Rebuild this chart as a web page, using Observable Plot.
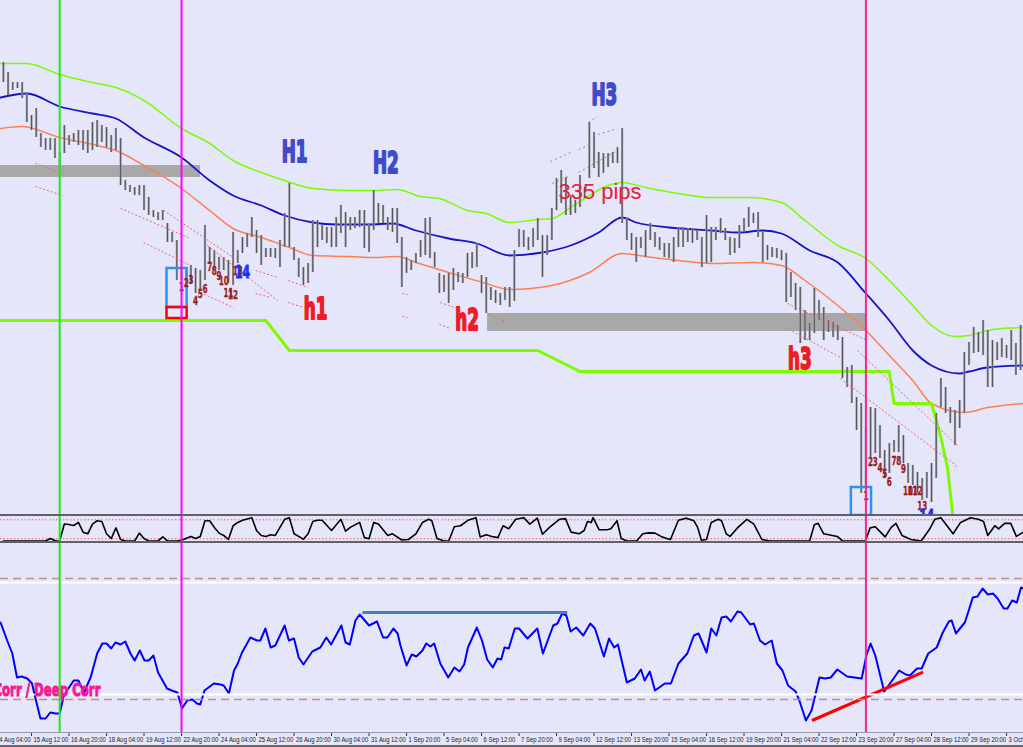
<!DOCTYPE html>
<html><head><meta charset="utf-8">
<script src="https://cdn.jsdelivr.net/npm/d3@7"></script>
<script src="https://cdn.jsdelivr.net/npm/@observablehq/plot@0.6"></script>
<style>
html,body{margin:0;padding:0;background:#E6E6FA;overflow:hidden}
#wrap{width:1023px;height:747px;overflow:hidden;background:#E6E6FA}
#wrap svg{display:block}
#main,#lower,#axis,#osc{width:1023px;overflow:hidden;line-height:0}
#osc{border-top:2px solid #606068;border-bottom:2px solid #606068}
#axis{border-top:1px solid #9a9aa2;border-bottom:2px solid #66666c}
</style></head>
<body><div id="wrap"><div id="main"></div><div id="osc"></div><div id="lower"></div><div id="axis"></div></div>
<script>
// ---------- DATA ----------
// H4 bars, index 0 = first visible bar; values in price units (arbitrary quote scale)
const barHigh = [938,928,918,918,918,908,885,892,867,862,
862,862,848,875,865,867,870,870,870,878,
880,875,873,865,872,862,820,815,813,815,
815,803,790,788,790,777,768,760,733,730,
735,732,730,775,753,750,743,743,740,768,
750,763,767,783,770,765,752,752,752,760,
787,817,753,742,733,737,780,780,775,773,
773,783,795,788,783,783,790,790,777,810,
797,795,783,792,792,763,743,740,747,760,
782,783,748,727,725,727,732,728,727,747,
748,757,725,723,713,710,707,713,713,750,
771,770,763,772,782,765,765,792,822,830,
823,805,800,825,813,878,868,848,847,847,
848,853,872,783,767,763,763,770,777,768,
763,757,757,763,773,773,772,772,770,763,
785,773,773,782,772,763,762,775,782,793,
787,788,768,755,753,752,750,747,728,717,
713,690,677,712,700,693,680,678,675,663,
633,635,603,597,573,593,592,575,550,557,
560,575,565,537,535,528,522,528,537,587,
622,613,593,590,600,648,658,673,668,680,
670,660,658,662,655,670,657,675];
const barLow = [918,905,910,912,902,878,870,863,853,850,
850,842,828,847,855,858,855,850,847,850,
853,858,853,848,850,815,810,808,805,805,
790,785,783,780,780,758,758,720,720,718,
717,707,710,720,737,733,730,730,717,715,
737,747,753,763,747,735,743,743,742,733,
753,753,740,723,715,717,728,753,760,757,
753,753,767,753,770,772,773,752,748,770,
777,777,770,768,757,713,727,730,737,743,
745,742,733,707,708,697,710,718,717,723,
732,733,707,687,700,697,695,700,693,699,
753,753,750,753,760,723,745,760,790,797,
785,785,787,793,802,822,832,823,827,833,
837,837,777,760,750,738,752,743,760,753,
750,743,742,738,753,753,758,757,760,733,
737,738,760,767,760,745,747,752,768,773,
777,763,738,740,743,742,740,698,703,690,
657,660,660,667,680,660,668,663,660,622,
613,597,570,507,513,543,547,542,523,527,
548,548,537,517,515,507,500,502,498,522,
593,587,577,555,572,587,635,647,648,645,
613,613,640,643,642,640,625,630];

// envelope / moving average lines [barIndex, price]
const upperBand = [[-0.6,937],[5,937],[12,926],[19,918],[24,913],[30,900],[38,872],[44,857],[49,840],[55,828],[60,820],[66,812],[74,810],[79,810],[84,811],[89,804],[93,802],[99,790],[103,787],[108,778],[114,781],[117,782],[121,793],[125,805],[129,815],[132,818],[137,813],[144,807],[151,803],[159,803],[166,798],[171,780],[178,755],[184,742],[189,720],[194,695],[198,675],[203,664],[206,665],[210,670],[213,672],[217.6,673]];
const middleBand = [[-0.6,903],[5,907],[12,894],[19,887],[24,882],[30,863],[38,843],[44,820],[49,805],[55,795],[60,785],[66,778],[71,776],[78,776],[83,777],[88,770],[95,762],[101,757],[108,745],[115,748],[121,755],[127,768],[132,783],[135,778],[142,773],[151,770],[157,768],[162,770],[166,767],[172,750],[178,738],[184,707],[189,680],[194,650],[198,635],[204,627],[206,629],[210,633],[217.6,635]];
const lowerBand = [[-0.6,872],[4,874],[12,863],[20,855],[24,850],[30,835],[38,812],[44,790],[49,772],[55,763],[61,753],[66,745],[74,744],[79,743],[84,744],[88,738],[95,728],[103,717],[108,711],[117,715],[125,728],[132,747],[137,744],[144,740],[151,737],[160,738],[166,735],[171,720],[178,695],[184,670],[189,645],[194,620],[198,597],[205,588],[210,593],[217.6,597]];
const stopLine = [[-1,680],[56,680],[61,650],[114,650],[123,629],[189,629],[190,597],[198,597],[200,563],[201.4,533],[202.5,487]];

// zones and boxes [fromBar, toBar, lowPrice, highPrice]
const grayZones = [[-1,42.05,823,835],[103.3,183.9,669,687]];
const blueBoxes = [[34.9,39.2,693,732],[180.9,185.2,485,513]];
const redBoxes = [[34.9,39.2,682,693]];

// dotted channel segments [bar1, price1, bar2, price2]
const redDotted = [[6.85,837,12.61,827],[6.85,814,12.61,805],[25.0,792,39.9,762],[29.9,758,39.9,735],[34.2,790,49.1,743],[43.5,755,58.5,700],[42.0,708,49.1,693],[53.8,730,58.5,723],[60.8,720,64.9,713],[53.8,707,57.0,703],[60.8,698,64.0,693],[85.1,707,86.2,706],[85.1,684,86.2,683],[93.2,698,96.9,692],[93.0,676,95.4,672],[103.3,687,107.5,678],[167.3,697,184.3,660],[166.8,673,178.6,643],[178.6,622,203.8,533],[182.2,650,203.5,555]];
const greenDotted = [[116.7,839,121,848],[122.7,851,125.2,856],[124.8,863,131,872],[124.8,878,126.7,884],[117.1,817,121,825],[122.7,828,131,850]];

// swing labels
const peakNames = ["H1","H2","H3"], peakIdx = [62.1,81.6,128.2], peakVal = [848.5,837,905.5];
const troughNames = ["h1","h2","h3"], troughIdx = [66.6,98.9,169.9], troughVal = [691,680,641];
const pipsText = "335 pips", pipsIdx = 118.4, pipsVal = 808.5;

// sequential counts
const count1Idx = [38,39,40,41,42,43,44,45,46,47,48,49,50];
const count1Val = [713,717,720,699,706,711,733,729,724,719,707,705,729];
const count2Idx = [184,185,186,187,188,189,190,191,192,193,194,195,196];
const count2Val = [504,538,538,532,526,518,539,539,531,509,509,509,494];
const countNames = ["1","2","3","4","5","6","7","8","9","10","11","12","13"];
const count14Idx = [51,197], count14Val = [728.5,484];

// vertical markers
const markerIdx = [12,38,184];
const markerColor = ["#22E822","#FF00FF","#F0288C"];

// oscillator (0-100) [bar, value]
const stoch = [[0,1],[9,1],[10,11],[11.2,1],[12,1],[13,72],[14,70],[15,66],[16,79],[17,38],[18,31],[19,72],[20,86],[21,83],[22,31],[23,11],[24,56],[25,7],[26,1],[28,1],[29,34],[30,11],[31,1],[33,1],[34,18],[35,1],[37,1],[38,4],[40,20],[41,11],[42,20],[43,86],[44,86],[45,58],[46,34],[47,24],[48,7],[49,65],[50,79],[51,88],[53,99],[54,45],[55,24],[56,20],[57,27],[58,24],[60,92],[61,99],[62,31],[63,20],[64,8],[65,31],[66,83],[67,88],[68,88],[70,45],[72,92],[73,42],[74,58],[76,79],[77,15],[78,10],[79,79],[80,72],[82,24],[83,31],[85,5],[86.4,7],[88,31],[89.4,79],[90.7,92],[91.4,86],[92.5,11],[94,1],[95,1],[96.2,61],[97.5,65],[99.1,88],[100.8,99],[101.7,18],[103,27],[104.2,20],[105.5,15],[106.6,65],[107.8,52],[109.3,92],[111,99],[112.3,72],[113.9,97],[115,29],[116.5,58],[118.6,92],[119.9,95],[121.1,38],[122.8,31],[123.9,45],[124.6,83],[125.4,79],[125.8,99],[127.1,48],[128.8,48],[129.6,52],[130.9,86],[131.8,11],[133,1],[135.1,1],[136.4,31],[137.7,35],[139,34],[140.3,20],[141.5,11],[142.3,7],[144,88],[145.7,97],[147.3,86],[148.1,58],[148.9,4],[150,7],[151,79],[152.5,92],[153.2,86],[154.2,31],[155,20],[156.7,58],[158.6,92],[160.1,72],[161.8,7],[163.5,1],[172,1],[173,69],[173.8,75],[175,31],[177.9,20],[179,1],[183.9,1],[184.9,56],[186,61],[188.1,18],[189.4,58],[190.4,75],[191.7,24],[193.6,7],[195.8,1],[197.5,48],[198.7,92],[200,99],[201.3,65],[202.6,31],[204.2,79],[206.3,99],[208,92],[209.1,83],[210,24],[211.5,65],[212.3,52],[213.6,75],[214.9,75],[216.1,20],[217.6,38]];
const stochLevels = [90,10];

// lower indicator [bar, value]
const corr = [[-0.6,98],[0.8,80],[1.9,67],[2.9,43],[3.9,44],[5.1,42],[6.1,37],[6.8,23],[7.9,2],[9,2],[10,8],[11.1,7],[12,7],[12.9,25],[14,33],[15,40],[16,40],[17.2,28],[18.6,43],[20,67],[21.1,77],[22,77],[23,72],[23.9,78],[25,76],[26,79],[27.1,67],[28,60],[29.1,70],[30.1,60],[31,60],[32,65],[33,48],[34.9,32],[35.9,30],[37.1,28],[38.1,12],[39.2,20],[40.3,21],[41.3,17],[42,16],[42.9,30],[44.9,37],[46.3,36],[47,35],[48.1,27],[49.2,50],[50,57],[50.9,68],[52.7,83],[54.1,80],[54.8,80],[55.9,92],[57,73],[58,75],[60,95],[60.9,80],[62,82],[63,63],[64,56],[65.9,69],[67.6,73],[68.9,83],[69.9,76],[72.1,95],[73,78],[73.9,76],[75.1,100],[76,106],[78,95],[79.7,99],[81,83],[81.9,83],[83.2,92],[84.1,87],[84.7,75],[86,55],[87.1,66],[88.1,64],[89.4,70],[90.2,77],[91.1,74],[91.9,77],[93.2,57],[94.9,43],[96.2,53],[97.3,49],[98.3,56],[99.1,73],[101,93],[102.1,80],[103.2,61],[104.4,53],[105.4,62],[106.2,61],[106.9,73],[107.8,72],[109.1,92],[110,92],[111.8,82],[113.9,92],[115.1,67],[117.3,95],[118.2,97],[119.2,107],[120.1,105],[121,89],[122.2,93],[123.7,85],[125.2,97],[126.2,92],[128.1,64],[129.2,82],[130.3,73],[131.1,76],[133,38],[134.7,42],[136,51],[136.8,40],[137.9,49],[139,30],[141.1,37],[142.4,37],[144,57],[145.9,67],[147.3,85],[148.3,87],[150,68],[151,92],[152.1,85],[153.2,103],[154.2,104],[155.2,99],[156.6,109],[157.4,108],[159.3,96],[160.1,97],[161.4,80],[162.5,76],[163.9,80],[165,57],[166.2,50],[167.4,35],[169,29],[169.8,20],[171.2,0],[172.4,10],[174.1,43],[175.3,42],[176.5,43],[177.9,51],[180,44],[183.1,42],[184.1,65],[185,77],[186,65],[187.9,29],[189.3,38],[191.1,50],[192.5,46],[193.4,45],[194.9,52],[195.9,52],[197.3,67],[199.1,73],[200.4,88],[201.7,99],[202.3,100],[203.2,87],[205.1,98],[205.8,108],[206.8,123],[207.8,124],[208.9,132],[210,126],[211.1,127],[212.1,122],[213.4,112],[214.2,112],[215.2,120],[216.2,118],[217.1,133],[217.6,132]];
const corrResistance = [[76.6,108,120.3,108]];
const corrDivergence = [[172.5,0,196.2,48.3]];
const corrWhiteLevels = [138,26];
const corrDashLevels = [142,21];
const corrLabel = "Corr / Deep Corr", corrLabelIdx = 20.7, corrLabelVal = 30;

// time axis
const tickIdx = d3.range(28).map(k => -2 + 8 * k);
const tickLabels = ["14 Aug 04:00","15 Aug 12:00","16 Aug 20:00","18 Aug 04:00","19 Aug 12:00","22 Aug 20:00","24 Aug 04:00","25 Aug 12:00","26 Aug 20:00","30 Aug 04:00","31 Aug 12:00","1 Sep 20:00","5 Sep 04:00","6 Sep 12:00","7 Sep 20:00","9 Sep 04:00","12 Sep 12:00","13 Sep 20:00","15 Sep 04:00","16 Sep 12:00","19 Sep 20:00","21 Sep 04:00","22 Sep 12:00","23 Sep 20:00","27 Sep 04:00","28 Sep 12:00","29 Sep 20:00","3 Oct 04:00"];

// ---------- DRAW ----------
const W = 1023;
const xDomain = [-0.62, 217.62];
function opts(h, yDomain, marks) {
  const o = {width: W, height: h, marginTop: 0, marginRight: 0, marginBottom: 0, marginLeft: 0,
    x: {domain: xDomain, axis: null},
    style: {background: "transparent", overflow: "hidden"}, marks};
  if (yDomain) o.y = {domain: yDomain, axis: null};
  return o;
}
// horizontally condense text glyphs (keeps Plot's own translate)
function squeeze(svg, map) {
  svg.querySelectorAll("g[font-size]").forEach(g => {
    const s = map[g.getAttribute("font-size")];
    if (!s) return;
    g.querySelectorAll("text").forEach(t => {
      const tr = t.getAttribute("transform") || "";
      t.setAttribute("transform", tr + ` scale(${s},1)`);
    });
  });
}
const bars = barHigh.map((h, i) => ({i, high: h, low: barLow[i]}));
const vRules = markerIdx.map((j, k) => Plot.ruleX([j], {stroke: markerColor[k], strokeWidth: 2}));
const rectOpts = {x1: d => d[0], x2: d => d[1], y1: d => d[2], y2: d => d[3]};
const segOpts = {x1: d => d[0], y1: d => d[1], x2: d => d[2], y2: d => d[3]};
const bold = "DejaVu Sans";
const heavy = (color, w) => ({fill: color, stroke: color, strokeWidth: w, fontWeight: "bold", fontFamily: bold});

const main = Plot.plot(opts(514, [486, 1000], [
  Plot.rect(grayZones, {...rectOpts, fill: "#A8A8A8"}),
  Plot.line(upperBand, {x: d => d[0], y: d => d[1], stroke: "#7CFC00", strokeWidth: 1.5, curve: "monotone-x"}),
  Plot.line(middleBand, {x: d => d[0], y: d => d[1], stroke: "#1414C8", strokeWidth: 1.8, curve: "monotone-x"}),
  Plot.line(lowerBand, {x: d => d[0], y: d => d[1], stroke: "#FF7F50", strokeWidth: 1.5, curve: "monotone-x"}),
  Plot.line(stopLine, {x: d => d[0], y: d => d[1], stroke: "#7CFC00", strokeWidth: 3, clip: true}),
  Plot.ruleX(bars, {x: "i", y1: "low", y2: "high", stroke: "#9B9BA4", strokeWidth: 2.2}),
  Plot.ruleX(bars, {x: "i", y1: "low", y2: "high", stroke: "#303030", strokeWidth: 0.9, strokeOpacity: 0.75}),
  Plot.link(redDotted, {...segOpts, stroke: "#F0607A", strokeWidth: 1, strokeDasharray: "2,2"}),
  Plot.link(greenDotted, {...segOpts, stroke: "#6E9E78", strokeWidth: 1, strokeDasharray: "2,3"}),
  Plot.rect(blueBoxes, {...rectOpts, fill: "none", stroke: "#2E8FFF", strokeWidth: 2.5, clip: true}),
  Plot.rect(redBoxes, {...rectOpts, fill: "none", stroke: "#FF0000", strokeWidth: 2.5}),
  Plot.text(peakNames, {x: (d, i) => peakIdx[i], y: (d, i) => peakVal[i], text: d => d, fontSize: 30, ...heavy("#3F4BC8", 2)}),
  Plot.text(troughNames, {x: (d, i) => troughIdx[i], y: (d, i) => troughVal[i], text: d => d, fontSize: 30, ...heavy("#EE1C25", 2)}),
  Plot.text([pipsText], {x: pipsIdx, y: pipsVal, text: d => d, fill: "#E8203C", fontSize: 22, fontFamily: "Liberation Sans", textAnchor: "start"}),
  Plot.text(countNames, {x: (d, i) => count1Idx[i], y: (d, i) => count1Val[i], text: d => d, fontSize: 12, ...heavy("#9B1B1B", 0.4)}),
  Plot.text(countNames, {x: (d, i) => count2Idx[i], y: (d, i) => count2Val[i], text: d => d, fontSize: 12, ...heavy("#9B1B1B", 0.4)}),
  Plot.text(["14", "14"], {x: (d, i) => count14Idx[i], y: (d, i) => count14Val[i], text: d => d, fontSize: 18, ...heavy("#1432FF", 1), clip: true}),
  ...vRules
]));
squeeze(main, {"30": 0.56, "18": 0.6, "12": 0.6});
document.getElementById("main").appendChild(main);

const osc = Plot.plot(opts(25, [-1.4, 103.9], [
  Plot.ruleY(stochLevels, {stroke: "#FF5A5A", strokeWidth: 1, strokeDasharray: "1.5,2"}),
  Plot.line(stoch, {x: d => d[0], y: d => d[1], stroke: "#000000", strokeWidth: 1.6}),
  ...vRules
]));
document.getElementById("osc").appendChild(osc);

const lower = Plot.plot(opts(189, [-12, 177], [
  Plot.line(corr, {x: d => d[0], y: d => d[1], stroke: "#0000FF", strokeWidth: 2}),
  Plot.link(corrResistance, {...segOpts, stroke: "#4682B4", strokeWidth: 3}),
  Plot.link(corrDivergence, {...segOpts, stroke: "#FF0000", strokeWidth: 3}),
  Plot.ruleY(corrWhiteLevels, {stroke: "#FFFFFF", strokeWidth: 2}),
  Plot.ruleY(corrDashLevels, {stroke: "#BC8F8F", strokeWidth: 1.5, strokeDasharray: "8,5"}),
  Plot.text([corrLabel], {x: corrLabelIdx, y: corrLabelVal, text: d => d, fontSize: 17, textAnchor: "end", ...heavy("#FF1493", 1)}),
  ...vRules
]));
squeeze(lower, {"17": 0.69});
document.getElementById("lower").appendChild(lower);

const axis = Plot.plot(opts(12, null, [
  Plot.ruleX(tickIdx, {x: d => d, stroke: "#333333", insetBottom: 9}),
  Plot.text(tickIdx, {x: d => d, text: (d, i) => tickLabels[i], frameAnchor: "middle", textAnchor: "start", dx: 2, fill: "#202020", fontSize: 8, fontFamily: "Liberation Sans"})
]));
squeeze(axis, {"8": 0.74});
document.getElementById("axis").appendChild(axis);
</script>
</body></html>
